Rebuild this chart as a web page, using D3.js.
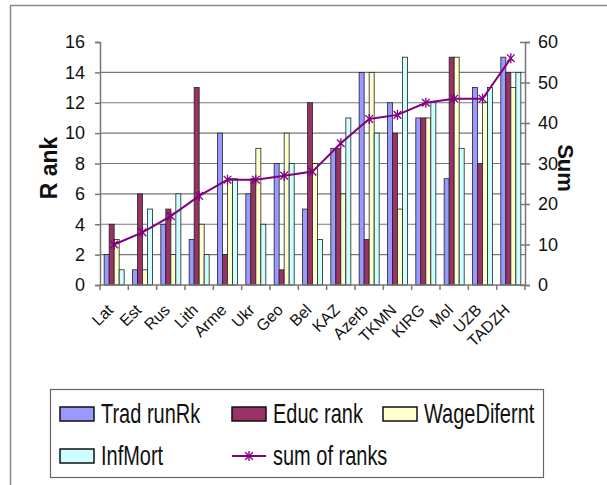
<!DOCTYPE html>
<html>
<head>
<meta charset="utf-8">
<script src="https://cdn.jsdelivr.net/npm/d3@7"></script>
<style>
  body { margin: 0; background: white; }
  svg text { font-family: "Liberation Sans", Arial, sans-serif; fill: #111; }
</style>
</head>
<body>
<div class="svg-wrap"></div>
<script>
const countries = ["Lat", "Est", "Rus", "Lith", "Arme", "Ukr", "Geo", "Bel", "KAZ", "Azerb", "TKMN", "KIRG", "Mol", "UZB", "TADZH"];
const tradRank = [2, 1, 4, 3, 10, 6, 8, 5, 9, 14, 12, 11, 7, 13, 15];
const educRank = [4, 6, 5, 13, 2, 7, 1, 12, 9, 3, 10, 11, 15, 8, 14];
const wageRank = [3, 1, 2, 4, 7, 9, 10, 8, 6, 14, 5, 11, 15, 12, 13];
const infRank  = [1, 5, 6, 2, 7, 4, 8, 3, 11, 10, 15, 12, 9, 13, 14];
const sumRanks = [10, 13, 17, 22, 26, 26, 27, 28, 35, 41, 42, 45, 46, 46, 56];
const leftTicks = [0, 2, 4, 6, 8, 10, 12, 14, 16];
const rightTicks = [0, 10, 20, 30, 40, 50, 60];

const seriesNames = ["Trad runRk", "Educ rank", "WageDifernt", "InfMort"];
const seriesData = [tradRank, educRank, wageRank, infRank];
const colors = ["#9999ff", "#993366", "#ffffcc", "#ccffff"];
const lineColor = "#800080";

const width = 607;
const height = 485;
const plotLeft = 100, plotRight = 525, plotTop = 42, plotBottom = 285;

let svg = d3.select(".svg-wrap")
  .append("svg")
  .attr("width", width)
  .attr("height", height);

// outer frame
svg.append("path")
  .attr("d", "M10.5," + height + " V5.5 H" + width)
  .attr("fill", "none")
  .attr("stroke", "#888")
  .attr("stroke-width", 1.5);

let x0 = d3.scaleBand().domain(countries).range([plotLeft, plotRight]).padding(0);
let x1 = d3.scaleBand().domain(seriesNames).range([0, x0.bandwidth()]).paddingInner(0).paddingOuter(0.83);
let y = d3.scaleLinear().domain([0, 16]).range([plotBottom, plotTop]);
let y2 = d3.scaleLinear().domain([0, 60]).range([plotBottom, plotTop]);

// gridlines
svg.append("g")
  .selectAll("line")
  .data(leftTicks.filter(d => d > 0 && d < 16))
  .enter()
  .append("line")
  .attr("x1", plotLeft)
  .attr("x2", plotRight)
  .attr("y1", d => y(d))
  .attr("y2", d => y(d))
  .attr("stroke", "#777")
  .attr("stroke-width", 1.2);

// bars
let groups = svg.append("g")
  .selectAll("g")
  .data(countries)
  .enter()
  .append("g")
  .attr("transform", d => "translate(" + x0(d) + ",0)");

groups.selectAll("rect")
  .data((d, i) => seriesNames.map((s, j) => ({ s: s, v: seriesData[j][i], j: j })))
  .enter()
  .append("rect")
  .attr("x", d => x1(d.s))
  .attr("y", d => y(d.v))
  .attr("width", x1.bandwidth())
  .attr("height", d => plotBottom - y(d.v))
  .attr("fill", d => colors[d.j])
  .attr("stroke", "#222")
  .attr("stroke-width", 0.8);

// axes
let yAxis = d3.axisLeft(y).tickValues(leftTicks).tickSize(5).tickPadding(10);
svg.append("g")
  .attr("transform", "translate(" + plotLeft + ",0)")
  .call(yAxis)
  .call(g => g.select(".domain").attr("stroke", "#777").attr("stroke-width", 1.5))
  .call(g => g.selectAll(".tick line").attr("stroke", "#777").attr("stroke-width", 1.5))
  .call(g => g.selectAll("text").style("font-size", "18px").attr("fill", "#111"));

let yAxisRight = d3.axisRight(y2).tickValues(rightTicks).tickSize(5).tickPadding(8);
svg.append("g")
  .attr("transform", "translate(" + plotRight + ",0)")
  .call(yAxisRight)
  .call(g => g.select(".domain").attr("stroke", "#777").attr("stroke-width", 1.5))
  .call(g => g.selectAll(".tick line").attr("x1", -5).attr("stroke", "#777").attr("stroke-width", 1.5))
  .call(g => g.selectAll("text").style("font-size", "18px").attr("fill", "#111"));

// x axis: ticks between categories
svg.append("line")
  .attr("x1", plotLeft).attr("x2", plotRight)
  .attr("y1", plotBottom).attr("y2", plotBottom)
  .attr("stroke", "#777").attr("stroke-width", 1.5);

svg.append("g")
  .selectAll("line")
  .data(countries.concat(["_end"]))
  .enter()
  .append("line")
  .attr("x1", (d, i) => plotLeft + i * x0.step())
  .attr("x2", (d, i) => plotLeft + i * x0.step())
  .attr("y1", plotBottom)
  .attr("y2", plotBottom + 5)
  .attr("stroke", "#777")
  .attr("stroke-width", 1.5);

svg.append("g")
  .selectAll("text")
  .data(countries)
  .enter()
  .append("text")
  .attr("text-anchor", "end")
  .attr("transform", d => "translate(" + (x0(d) + x0.bandwidth() / 2) + "," + (plotBottom + 26) + ") rotate(-45)")
  .style("font-size", "16px")
  .text(d => d);

// sum line
let line = d3.line()
  .x((d, i) => x0(countries[i]) + x0.bandwidth() / 2)
  .y(d => y2(d));

svg.append("path")
  .datum(sumRanks)
  .attr("d", line)
  .attr("fill", "none")
  .attr("stroke", lineColor)
  .attr("stroke-width", 2);

let star = d3.symbol().type(d3.symbolX).size(40);
let markers = svg.append("g")
  .selectAll("g")
  .data(sumRanks)
  .enter()
  .append("g")
  .attr("transform", (d, i) => "translate(" + (x0(countries[i]) + x0.bandwidth() / 2) + "," + y2(d) + ")");
markers.append("path").attr("d", star).attr("stroke", lineColor).attr("stroke-width", 1.3).attr("fill", "none");
markers.append("line").attr("y1", -5).attr("y2", 5).attr("stroke", lineColor).attr("stroke-width", 1.3);

// axis titles
svg.append("text")
  .attr("transform", "translate(57,168) rotate(-90)")
  .attr("text-anchor", "middle")
  .style("font-size", "23px")
  .style("font-weight", "bold")
  .text("R ank");

svg.append("text")
  .attr("transform", "translate(558,168) rotate(90)")
  .attr("text-anchor", "middle")
  .style("font-size", "22px")
  .style("font-weight", "bold")
  .text("Sum");

// legend
let legend = svg.append("g");
legend.append("rect")
  .attr("x", 50.5).attr("y", 389.5)
  .attr("width", 493).attr("height", 88)
  .attr("fill", "white")
  .attr("stroke", "#666")
  .attr("stroke-width", 1.2);

let legendItems = seriesNames.concat(["sum of ranks"]);
let legendPos = [[60, 414], [232, 414], [383, 414], [60, 456], [232, 456]];

legendItems.forEach((name, i) => {
  let p = legendPos[i];
  if (i < 4) {
    legend.append("rect")
      .attr("x", p[0]).attr("y", p[1] - 7)
      .attr("width", 34).attr("height", 14)
      .attr("fill", colors[i])
      .attr("stroke", "#111")
      .attr("stroke-width", 1.5);
  } else {
    legend.append("line")
      .attr("x1", p[0]).attr("x2", p[0] + 34)
      .attr("y1", p[1]).attr("y2", p[1])
      .attr("stroke", lineColor).attr("stroke-width", 2);
    let m = legend.append("g").attr("transform", "translate(" + (p[0] + 17) + "," + p[1] + ")");
    m.append("path").attr("d", star).attr("stroke", lineColor).attr("stroke-width", 1.3).attr("fill", "none");
    m.append("line").attr("y1", -5).attr("y2", 5).attr("stroke", lineColor).attr("stroke-width", 1.3);
  }
  legend.append("text")
    .attr("transform", "translate(" + (p[0] + 41) + "," + (p[1] + 9) + ") scale(0.74,1)")
    .style("font-size", "27px")
    .text(name);
});
</script>
</body>
</html>
